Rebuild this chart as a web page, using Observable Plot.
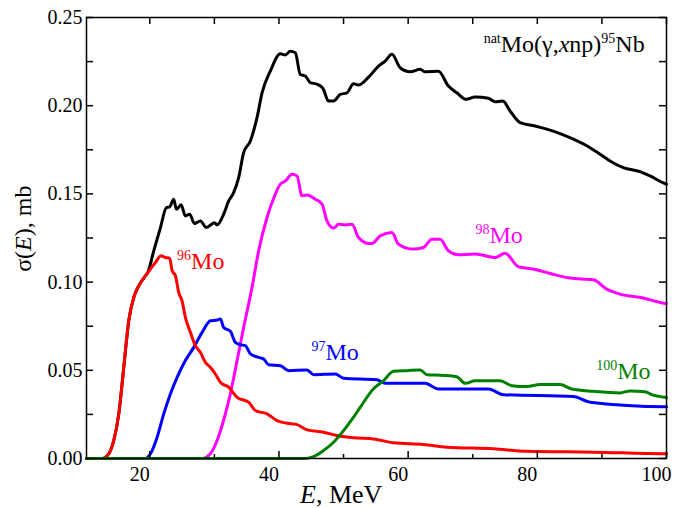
<!DOCTYPE html>
<html><head><meta charset="utf-8">
<script src="https://cdn.jsdelivr.net/npm/d3@7"></script>
<script src="https://cdn.jsdelivr.net/npm/@observablehq/plot@0.6"></script>
<style>html,body{margin:0;padding:0;background:#fff} svg{display:block}</style>
</head><body><div id="chart"></div>
<script>
// natMo(γ,xnp)95Nb total, [E (MeV), σ (mb)]
const natMo = [[10.2,0],[12.63,0],[13.65,0.0027],[14.42,0.0102],[15.20,0.0253],[15.97,0.0517],[16.74,0.0781],[17.52,0.0913],[18.29,0.0979],[19.33,0.1036],[19.68,0.1054],[20.61,0.1177],[21.65,0.1309],[22.57,0.1422],[23.08,0.1426],[23.70,0.1470],[24.12,0.1413],[24.85,0.1438],[25.51,0.1375],[26.18,0.1385],[26.91,0.1332],[27.83,0.1347],[28.76,0.1309],[30.00,0.1337],[30.42,0.1324],[31.44,0.1385],[32.21,0.1460],[32.98,0.1507],[33.76,0.1592],[34.53,0.1734],[35.57,0.1800],[36.60,0.1932],[37.38,0.2073],[38.66,0.2196],[40.21,0.2294],[40.98,0.2287],[41.75,0.2309],[42.53,0.2300],[43.30,0.2177],[44.07,0.2168],[44.85,0.2131],[45.88,0.2122],[46.81,0.2098],[47.68,0.2026],[48.45,0.2026],[49.49,0.2064],[50.52,0.2073],[51.55,0.2124],[52.32,0.2117],[53.87,0.2162],[55.41,0.2224],[56.45,0.2253],[57.49,0.2291],[58.77,0.2215],[60.32,0.2192],[61.86,0.2206],[62.64,0.2192],[64.69,0.2196],[66.24,0.2111],[67.54,0.2073],[68.98,0.2036],[70.37,0.2049],[72.43,0.2042],[73.46,0.2022],[74.65,0.2026],[75.78,0.1970],[77.33,0.1904],[79.65,0.1885],[81.46,0.1867],[83.52,0.1842],[85.58,0.1810],[88.16,0.1762],[89.71,0.1725],[91.25,0.1687],[93.31,0.1649],[95.89,0.1626],[97.44,0.1602],[99.76,0.1558],[100,0.1555]];
const mo96 = [[10.2,0],[12.63,0],[13.65,0.0027],[14.42,0.0102],[15.20,0.0253],[15.97,0.0517],[16.74,0.0781],[17.52,0.0913],[18.29,0.0979],[19.33,0.1036],[20.10,0.1074],[20.87,0.1111],[21.75,0.1149],[22.42,0.1139],[23.08,0.1136],[23.46,0.1064],[23.97,0.1036],[24.48,0.0941],[25.00,0.0894],[25.51,0.0800],[26.29,0.0715],[27.06,0.0640],[27.83,0.0602],[28.61,0.0545],[29.38,0.0517],[30.15,0.0479],[30.93,0.0432],[32.21,0.0404],[33.51,0.0347],[35.30,0.0319],[36.34,0.0272],[38.15,0.0253],[39.70,0.0215],[41.24,0.0200],[42.79,0.0192],[44.34,0.0162],[46.91,0.0149],[48.98,0.0130],[51.55,0.0117],[54.64,0.0111],[57.73,0.0089],[62.37,0.0079],[65.99,0.0064],[73.20,0.0055],[78.37,0.0041],[88.67,0.0036],[99.76,0.0027],[100,0.0027]];
const mo97 = [[10.2,0],[19.33,0],[20.10,0.0027],[21.14,0.0121],[22.16,0.0253],[23.19,0.0366],[24.23,0.0460],[25.51,0.0555],[26.80,0.0630],[28.10,0.0715],[29.38,0.0781],[30.42,0.0785],[30.93,0.0791],[31.44,0.0743],[32.47,0.0721],[33.25,0.0658],[34.02,0.0645],[34.79,0.0640],[35.57,0.0593],[36.85,0.0573],[37.62,0.0564],[38.40,0.0532],[40.21,0.0526],[41.49,0.0498],[44.34,0.0502],[45.36,0.0475],[48.72,0.0479],[50.00,0.0455],[55.16,0.0447],[56.45,0.0426],[62.64,0.0426],[64.69,0.0394],[72.43,0.0394],[74.75,0.0362],[85.58,0.0351],[88.16,0.0319],[99.76,0.0294],[100,0.0294]];
const mo98 = [[10.2,0],[28.10,0],[29.38,0.0027],[30.42,0.0102],[31.70,0.0253],[32.47,0.0366],[33.51,0.0555],[34.53,0.0743],[35.83,0.0970],[36.85,0.1177],[38.15,0.1366],[39.43,0.1498],[40.21,0.1555],[40.98,0.1573],[42.02,0.1611],[42.79,0.1602],[43.56,0.1489],[44.34,0.1494],[45.62,0.1470],[46.66,0.1442],[47.43,0.1347],[48.45,0.1306],[49.23,0.1328],[50.26,0.1324],[51.30,0.1328],[52.32,0.1253],[53.87,0.1219],[54.39,0.1219],[55.68,0.1262],[57.49,0.1281],[58.51,0.1215],[60.83,0.1187],[62.37,0.1196],[63.67,0.1243],[64.96,0.1243],[66.24,0.1177],[67.79,0.1155],[70.37,0.1159],[73.46,0.1139],[75.01,0.1164],[77.07,0.1087],[79.39,0.1074],[81.97,0.1049],[85.07,0.1023],[88.67,0.1013],[90.74,0.0960],[92.80,0.0932],[96.40,0.0910],[99.76,0.0879],[100,0.0878]];
const mo100 = [[10.2,0],[43.81,0],[45.36,0.0011],[46.91,0.0045],[48.45,0.0092],[50.00,0.0158],[51.55,0.0234],[52.58,0.0290],[54.64,0.0395],[56.19,0.0441],[57.73,0.0494],[59.81,0.0498],[61.86,0.0502],[62.90,0.0475],[65.47,0.0471],[67.54,0.0464],[68.82,0.0426],[70.37,0.0441],[74.24,0.0441],[76.05,0.0413],[78.37,0.0408],[80.42,0.0419],[83.52,0.0419],[85.33,0.0394],[88.67,0.0381],[92.80,0.0372],[94.35,0.0383],[96.67,0.0379],[97.70,0.0362],[99.76,0.0347],[100,0.0346]];

const xMajor = [20, 40, 60, 80, 100];
const xMinor = [30, 50, 70, 90];
const yMajor = [0, 0.05, 0.10, 0.15, 0.20, 0.25];
const yMinor = [0.025, 0.075, 0.125, 0.175, 0.225];

// label anchors in data units [E, σ]
const lab96 = [24.3, 0.107];
const lab97 = [45.1, 0.0555];
const lab98 = [70.5, 0.1219];
const lab100 = [89.2, 0.0447];
const labTitle = [96.7, 0.230];

const W = 686, H = 508, mL = 86, mR = 20, mT = 17, mB = 50;
const FW = W - mL - mR, FH = H - mT - mB;
const FONT = "Liberation Serif, DejaVu Serif, serif";
const rows = a => a.map(([E, s]) => ({E, s}));
const lo = {x: "E", y: "s", strokeWidth: 3, curve: "monotone-x", strokeLinejoin: "round", strokeLinecap: "round"};

const plot = Plot.plot({
  width: W, height: H, marginLeft: mL, marginRight: mR, marginTop: mT, marginBottom: mB,
  x: {domain: [10.2, 100]},
  y: {domain: [0, 0.25]},
  style: {fontFamily: FONT, fontSize: "20px", background: "white", color: "black"},
  marks: [
    Plot.line(rows(natMo), {...lo, stroke: "black"}),
    Plot.line(rows(mo98), {...lo, stroke: "#ff00ff"}),
    Plot.line(rows(mo97), {...lo, stroke: "#0000ff"}),
    Plot.line(rows(mo96), {...lo, stroke: "#ff0000"}),
    Plot.line(rows(mo100), {...lo, stroke: "#008000"}),
    Plot.frame({stroke: "black", strokeWidth: 1.5}),
    Plot.tickX(xMajor, {x: d => d, insetTop: FH - 7, strokeWidth: 1.5}),
    Plot.tickX(xMinor, {x: d => d, insetTop: FH - 4, strokeWidth: 1.5}),
    Plot.tickX([...xMajor, ...xMinor], {x: d => d, insetBottom: FH - 7, strokeWidth: 1.5}),
    Plot.tickY([...yMajor, ...yMinor], {y: d => d, insetRight: FW - 7, strokeWidth: 1.5}),
    Plot.tickY([...yMajor, ...yMinor], {y: d => d, insetLeft: FW - 7, strokeWidth: 1.5}),
    Plot.axisX({ticks: xMajor, tickSize: 0, tickPadding: 8, dx: -10, label: null, tickFormat: d => String(d)}),
    Plot.axisY({ticks: yMajor, tickSize: 0, tickPadding: 4, label: null, tickFormat: d3.format(".2f")})
  ]
});
document.getElementById("chart").appendChild(plot);

const svg = d3.select(plot);
const sx = plot.scale("x"), sy = plot.scale("y");
function rich(x, y, parts, {fill = "black", size = 24, sup = 14, anchor = "start", transform = null} = {}) {
  const t = svg.append("text")
    .attr("fill", fill).attr("font-size", size).attr("font-family", FONT)
    .attr("text-anchor", anchor);
  if (transform) t.attr("transform", transform); else t.attr("x", x).attr("y", y);
  let raised = false;
  for (const p of parts) {
    const ts = t.append("tspan").text(p.t);
    if (p.sup) { ts.attr("font-size", sup); if (!raised) ts.attr("dy", -9); raised = true; }
    else { if (raised) ts.attr("dy", 9); raised = false; }
    if (p.i) ts.attr("font-style", "italic");
  }
  return t;
}
const at = ([E, s]) => [sx.apply(E), sy.apply(s)];
rich(...at(lab96), [{t: "96", sup: true}, {t: "Mo"}], {fill: "#ff0000"});
rich(...at(lab97), [{t: "97", sup: true}, {t: "Mo"}], {fill: "#0000ff"});
rich(...at(lab98), [{t: "98", sup: true}, {t: "Mo"}], {fill: "#ff00ff"});
rich(...at(lab100), [{t: "100", sup: true}, {t: "Mo"}], {fill: "#008000"});
rich(...at(labTitle), [{t: "nat", sup: true}, {t: "Mo(γ,"}, {t: "x", i: true}, {t: "np)"}, {t: "95", sup: true}, {t: "Nb"}], {anchor: "end"});
rich(mL + FW * 0.44, H - 5, [{t: "E", i: true}, {t: ", MeV"}], {size: 26, anchor: "middle"});
rich(0, 0, [{t: "σ("}, {t: "E", i: true}, {t: "), mb"}], {size: 24, anchor: "middle", transform: `translate(31,${mT + FH * 0.48}) rotate(-90)`});
</script>
</body></html>
